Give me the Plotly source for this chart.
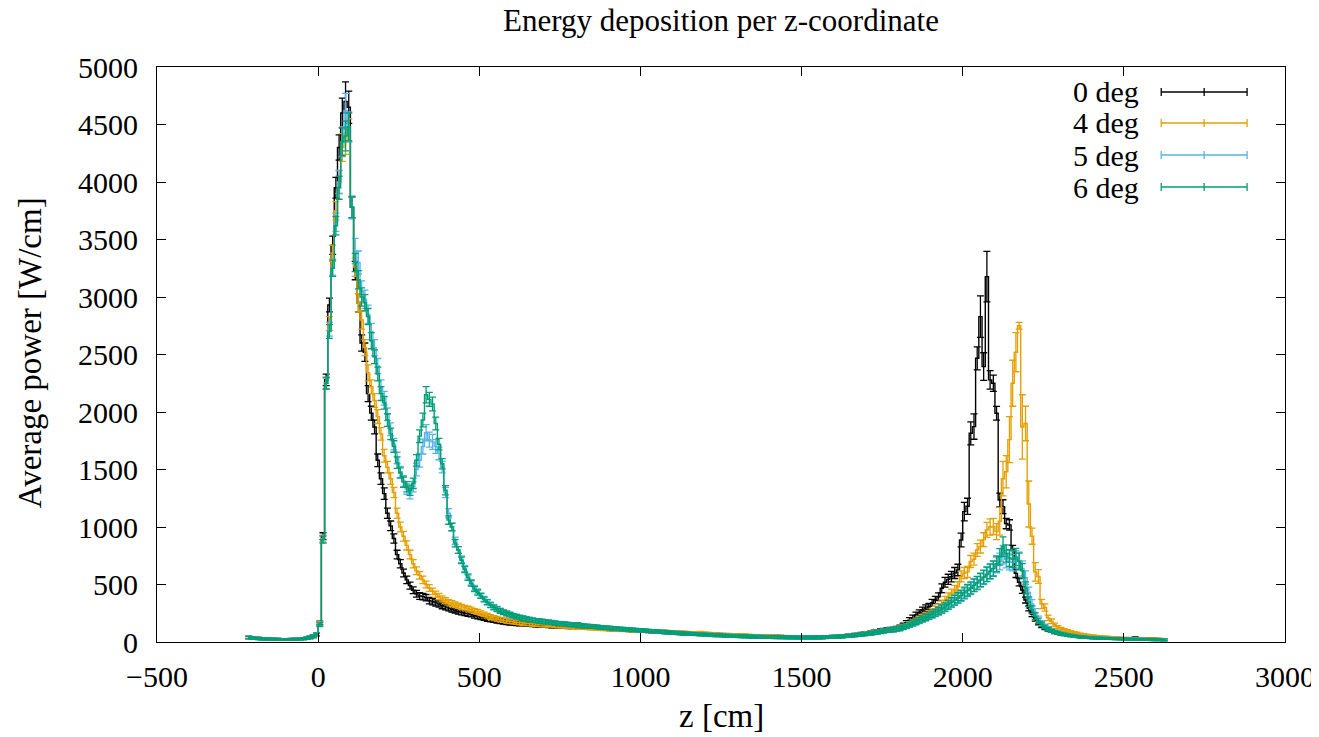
import plotly.graph_objects as go

# ---------------- data (bin centres every 10 cm starting at -215 cm) ----------------
BIN_START = -215
BIN_WIDTH = 10

SERIES_NAMES = ["0 deg", "4 deg", "5 deg", "6 deg"]
SERIES_COLORS = ["#000000", "#e69f00", "#56b4e9", "#009e73"]

DEG0 = [
    40, 36, 33, 31, 29, 27, 26, 25, 24, 23,
    22, 22, 22, 23, 23, 24, 26, 29, 33, 40,
    50, 68, 165, 920, 2280, 2930, 3450, 3950, 4300, 4600,
    4700, 4650, 3780, 3230, 2950, 2600, 2520, 2160, 1990, 1870,
    1580, 1420, 1290, 1120, 1010, 900, 760, 680, 600, 540,
    490, 450, 420, 400, 395, 385, 360, 350, 340, 330,
    315, 305, 295, 285, 275, 265, 258, 250, 245, 240,
    228, 222, 215, 208, 200, 195, 190, 185, 180, 176,
    172, 168, 165, 162, 160, 163, 158, 155, 152, 150,
    148, 146, 144, 142, 140, 139, 137, 136, 134, 133,
    132, 135, 150, 140, 130, 128, 126, 124, 122, 120,
    118, 116, 115, 113, 111, 110, 108, 106, 105, 103,
    101, 100, 98, 96, 95, 93, 92, 90, 88, 87,
    85, 84, 82, 81, 79, 78, 76, 75, 73, 72,
    70, 69, 68, 66, 65, 64, 62, 61, 60, 59,
    58, 57, 56, 55, 54, 53, 52, 51, 50, 49,
    48, 47, 47, 46, 45, 45, 44, 44, 43, 43,
    42, 42, 42, 41, 41, 41, 41, 42, 42, 43,
    44, 45, 46, 48, 50, 52, 55, 58, 61, 65,
    69, 73, 77, 82, 87, 92, 97, 102, 106, 108,
    110, 118, 128, 145, 165, 190, 210, 235, 255, 278,
    295, 307, 340, 365, 394, 467, 520, 545, 568, 600,
    626, 887, 1134, 1180, 1815, 1873, 2467, 2829, 2395, 3177,
    2279, 2250, 1989, 1235, 1177, 1030, 1018, 800, 597, 520,
    452, 365, 293, 240, 200, 165, 140, 122, 108, 96,
    86, 78, 71, 65, 60, 56, 52, 49, 46, 43,
    41, 40, 38, 37, 36, 35, 34, 33, 32, 32,
    31, 30, 30, 29, 28, 34, 28, 27, 26, 26,
    25, 24, 23, 22, 21,
]

DEG4 = [
    38, 35, 32, 30, 28, 27, 26, 25, 24, 23,
    22, 22, 22, 22, 23, 24, 26, 29, 33, 40,
    50, 66, 160, 900, 2250, 2770, 3380, 3750, 4000, 4300,
    4350, 4450, 3780, 3260, 2950, 2800, 2560, 2340, 2220, 2100,
    1960, 1810, 1620, 1520, 1420, 1300, 1120, 1000, 920, 840,
    760, 680, 620, 580, 540, 500, 470, 440, 415, 395,
    375, 360, 345, 335, 325, 315, 305, 298, 290, 282,
    270, 262, 250, 240, 228, 218, 210, 202, 195, 190,
    185, 180, 176, 172, 168, 165, 162, 160, 157, 155,
    152, 150, 148, 146, 150, 143, 140, 138, 136, 134,
    132, 130, 128, 127, 125, 123, 122, 120, 118, 117,
    115, 114, 112, 111, 109, 108, 106, 105, 104, 102,
    101, 99, 98, 97, 95, 94, 93, 91, 90, 89,
    87, 86, 85, 84, 82, 81, 80, 79, 78, 77,
    80, 76, 74, 72, 70, 68, 66, 64, 63, 62,
    60, 59, 58, 60, 56, 55, 54, 53, 52, 51,
    50, 49, 48, 47, 46, 46, 45, 44, 44, 43,
    43, 42, 42, 42, 42, 42, 42, 42, 43, 43,
    44, 45, 46, 48, 50, 52, 55, 58, 61, 65,
    68, 72, 76, 80, 84, 88, 92, 96, 100, 103,
    105, 112, 120, 130, 140, 155, 170, 185, 200, 215,
    230, 245, 260, 280, 300, 330, 360, 390, 420, 450,
    480, 570, 600, 610, 700, 720, 800, 830, 890, 975,
    1000, 1005, 960, 1050, 1420, 1480, 1760, 2250, 2520, 2750,
    1870, 1900, 1200, 920, 610, 570, 330, 300, 210, 180,
    150, 130, 115, 105, 96, 88, 81, 75, 69, 64,
    60, 56, 52, 49, 46, 44, 42, 40, 38, 36,
    34, 33, 32, 31, 30, 29, 28, 27, 26, 26,
    25, 24, 24, 23, 22,
]

DEG5 = [
    39, 35, 32, 30, 28, 27, 26, 25, 24, 23,
    22, 22, 22, 22, 23, 24, 26, 29, 33, 40,
    50, 66, 155, 895, 2250, 2720, 3260, 3650, 4000, 4350,
    4620, 4480, 3780, 3400, 3300, 3050, 2980, 2850, 2700, 2560,
    2400, 2220, 2120, 1980, 1850, 1720, 1600, 1480, 1400, 1330,
    1290, 1350, 1500, 1580, 1700, 1820, 1760, 1740, 1700, 1640,
    1520, 1300, 1120, 1000, 880, 800, 720, 640, 570, 520,
    470, 440, 405, 375, 350, 325, 305, 290, 275, 262,
    250, 240, 230, 222, 215, 208, 202, 197, 192, 188,
    184, 180, 176, 173, 170, 166, 163, 160, 158, 155,
    152, 150, 147, 144, 142, 139, 136, 134, 132, 129,
    127, 124, 122, 119, 117, 115, 113, 111, 109, 107,
    105, 103, 101, 99, 97, 95, 93, 91, 89, 87,
    85, 83, 81, 79, 77, 75, 74, 72, 71, 69,
    67, 66, 64, 63, 61, 60, 59, 58, 56, 55,
    54, 53, 52, 51, 50, 49, 48, 47, 46, 46,
    45, 44, 44, 43, 43, 42, 42, 41, 41, 41,
    40, 40, 40, 40, 40, 41, 41, 41, 42, 43,
    44, 45, 46, 48, 50, 52, 54, 57, 60, 63,
    66, 70, 74, 78, 82, 87, 92, 97, 102, 104,
    106, 112, 117, 126, 136, 148, 160, 172, 185, 198,
    210, 222, 236, 250, 265, 282, 300, 320, 340, 360,
    380, 400, 420, 445, 465, 490, 510, 535, 560, 585,
    610, 635, 670, 700, 760, 720, 700, 690, 720, 710,
    640, 560, 430, 330, 260, 200, 165, 138, 118, 102,
    90, 82, 74, 68, 62, 57, 53, 49, 46, 43,
    41, 39, 37, 35, 34, 33, 32, 31, 30, 29,
    28, 27, 26, 26, 25, 24, 24, 23, 23, 22,
    22, 21, 21, 20, 20,
]

DEG6 = [
    38, 35, 32, 30, 28, 27, 26, 25, 24, 23,
    22, 22, 22, 22, 23, 24, 26, 29, 33, 40,
    50, 65, 150, 890, 2250, 2700, 3250, 3620, 3950, 4350,
    4400, 4480, 3780, 3300, 3150, 3000, 2950, 2830, 2620, 2480,
    2330, 2160, 2080, 1930, 1810, 1700, 1560, 1470, 1390, 1350,
    1320, 1380, 1580, 1790, 1930, 2150, 2110, 2070, 1900, 1720,
    1550, 1320, 1060, 1000, 860, 800, 710, 630, 560, 510,
    460, 430, 400, 370, 345, 320, 300, 285, 270, 258,
    248, 238, 228, 220, 213, 206, 200, 195, 190, 186,
    182, 178, 175, 172, 168, 165, 162, 159, 157, 154,
    151, 148, 146, 143, 140, 138, 135, 133, 131, 128,
    126, 123, 121, 118, 116, 114, 112, 110, 108, 106,
    104, 102, 100, 98, 96, 94, 92, 90, 88, 86,
    84, 82, 80, 78, 76, 74, 73, 71, 70, 68,
    66, 65, 63, 62, 60, 59, 58, 57, 55, 54,
    53, 52, 51, 50, 49, 48, 47, 46, 45, 45,
    44, 43, 43, 42, 42, 41, 41, 40, 40, 40,
    39, 39, 39, 39, 39, 40, 40, 40, 41, 42,
    43, 44, 45, 47, 49, 51, 53, 56, 59, 62,
    65, 68, 72, 76, 80, 85, 90, 96, 100, 104,
    108, 113, 118, 128, 138, 150, 162, 175, 188, 200,
    213, 226, 240, 255, 270, 288, 305, 325, 345, 365,
    385, 405, 430, 450, 470, 495, 515, 540, 565, 590,
    615, 640, 680, 740, 830, 770, 730, 720, 740, 700,
    620, 470, 350, 280, 225, 185, 155, 130, 112, 98,
    88, 80, 72, 66, 60, 56, 52, 48, 45, 42,
    40, 38, 36, 34, 33, 32, 31, 30, 29, 28,
    27, 26, 26, 25, 24, 24, 23, 23, 22, 22,
    21, 21, 20, 20, 19,
]

# error-bar half heights (W/cm): left part (-215..575), shared middle part (585..1775), right part (1785..2625)
ERR_MID = [
    20, 20, 19, 19, 19, 20, 19, 18, 18, 18,
    18, 18, 17, 17, 17, 17, 16, 16, 16, 16,
    16, 17, 18, 17, 16, 16, 16, 15, 15, 15,
    15, 15, 15, 15, 15, 14, 14, 14, 14, 14,
    14, 14, 14, 13, 13, 13, 13, 13, 13, 13,
    13, 13, 13, 13, 13, 13, 12, 12, 12, 12,
    12, 12, 12, 12, 12, 12, 12, 12, 12, 12,
    12, 12, 12, 12, 12, 12, 12, 12, 12, 12,
    12, 12, 12, 12, 12, 12, 12, 12, 12, 12,
    12, 12, 12, 12, 12, 12, 12, 12, 12, 12,
    12, 12, 12, 12, 12, 12, 13, 13, 13, 13,
    14, 14, 14, 15, 15, 16, 16, 17, 17, 18,
]

ERR0_LEFT = [
    10, 10, 9, 9, 9, 8, 8, 8, 8, 8,
    8, 8, 8, 8, 8, 8, 8, 9, 9, 10,
    11, 12, 16, 30, 50, 60, 80, 90, 110, 130,
    170, 140, 90, 80, 80, 70, 80, 70, 60, 60,
    55, 50, 50, 45, 42, 40, 38, 36, 34, 32,
    31, 30, 29, 29, 28, 28, 28, 27, 27, 26,
    26, 25, 24, 24, 23, 22, 22, 21, 21, 21,
    21, 21, 20, 20, 20, 20, 20, 20, 20, 20,
]
ERR4_LEFT = [
    10, 10, 9, 9, 9, 8, 8, 8, 8, 8,
    8, 8, 8, 8, 8, 8, 8, 9, 9, 10,
    11, 12, 16, 30, 50, 60, 70, 80, 100, 120,
    110, 100, 90, 80, 80, 80, 70, 70, 60, 60,
    60, 55, 55, 50, 50, 45, 45, 42, 42, 40,
    38, 36, 34, 32, 32, 30, 29, 28, 27, 27,
    26, 25, 24, 24, 23, 22, 22, 21, 21, 21,
    21, 21, 20, 20, 20, 20, 20, 20, 20, 20,
]
ERR5_LEFT = [
    10, 10, 9, 9, 9, 8, 8, 8, 8, 8,
    8, 8, 8, 8, 8, 8, 8, 9, 9, 10,
    11, 12, 16, 30, 50, 60, 70, 80, 100, 130,
    150, 130, 100, 110, 100, 90, 80, 80, 70, 70,
    65, 60, 60, 55, 55, 50, 50, 48, 46, 45,
    45, 45, 55, 60, 65, 70, 65, 65, 60, 55,
    50, 45, 40, 35, 32, 30, 28, 26, 24, 23,
    22, 22, 21, 21, 21, 21, 20, 20, 20, 20,
]
ERR6_LEFT = [
    10, 10, 9, 9, 9, 8, 8, 8, 8, 8,
    8, 8, 8, 8, 8, 8, 8, 9, 9, 10,
    11, 12, 16, 30, 50, 60, 70, 80, 100, 120,
    130, 120, 90, 80, 80, 80, 70, 70, 70, 60,
    60, 60, 55, 55, 50, 50, 50, 45, 45, 45,
    45, 45, 50, 55, 60, 70, 60, 60, 55, 50,
    45, 40, 36, 32, 32, 30, 28, 26, 24, 23,
    22, 22, 21, 21, 21, 21, 20, 20, 20, 20,
]

ERR0_RIGHT = [
    18, 18, 19, 20, 21, 22, 23, 24, 25, 26,
    27, 28, 30, 32, 34, 38, 42, 44, 46, 48,
    50, 60, 80, 70, 100, 110, 100, 180, 120, 220,
    80, 70, 60, 60, 60, 45, 45, 40, 36, 32,
    30, 26, 22, 20, 18, 16, 15, 14, 13, 12,
    12, 11, 11, 10, 10, 10, 10, 9, 9, 9,
    9, 9, 9, 9, 9, 9, 8, 8, 8, 8,
    8, 8, 8, 8, 8, 10, 8, 8, 8, 8,
    8, 8, 8, 8, 8,
]
ERR4_RIGHT = [
    18, 18, 19, 19, 20, 21, 22, 23, 24, 25,
    26, 27, 28, 30, 32, 34, 36, 38, 40, 42,
    44, 48, 48, 48, 52, 52, 56, 56, 60, 65,
    70, 70, 70, 120, 150, 140, 200, 200, 170, 30,
    280, 150, 200, 70, 80, 60, 40, 32, 24, 20,
    15, 13, 12, 11, 11, 10, 10, 10, 9, 9,
    9, 9, 9, 9, 9, 9, 8, 8, 8, 8,
    8, 8, 8, 8, 8, 8, 8, 8, 8, 8,
    8, 8, 8, 8, 8,
]
ERR5_RIGHT = [
    18, 18, 19, 19, 20, 21, 22, 23, 24, 25,
    26, 27, 28, 30, 32, 34, 36, 38, 40, 42,
    44, 46, 48, 50, 52, 54, 56, 58, 60, 62,
    64, 66, 68, 72, 80, 75, 72, 72, 75, 72,
    66, 58, 48, 38, 30, 25, 20, 17, 15, 14,
    13, 12, 11, 11, 10, 10, 10, 9, 9, 9,
    9, 9, 9, 9, 9, 9, 8, 8, 8, 8,
    8, 8, 8, 8, 8, 8, 8, 8, 8, 8,
    8, 8, 8, 8, 8,
]
ERR6_RIGHT = [
    18, 18, 19, 19, 20, 21, 22, 23, 24, 25,
    26, 27, 28, 30, 32, 34, 36, 38, 40, 42,
    44, 46, 48, 50, 52, 54, 56, 58, 60, 62,
    64, 66, 68, 72, 85, 75, 72, 72, 75, 72,
    62, 52, 42, 34, 28, 23, 19, 16, 14, 13,
    12, 12, 11, 11, 10, 10, 10, 9, 9, 9,
    9, 9, 9, 9, 9, 9, 8, 8, 8, 8,
    8, 8, 8, 8, 8, 8, 8, 8, 8, 8,
    8, 8, 8, 8, 8,
]

X_TICKS = [-500, 0, 500, 1000, 1500, 2000, 2500, 3000]
Y_TICKS = [0, 500, 1000, 1500, 2000, 2500, 3000, 3500, 4000, 4500, 5000]

TITLE = "Energy deposition per z-coordinate"
X_TITLE = "z [cm]"
Y_TITLE = "Average power [W/cm]"

# ---------------- build ----------------
values = [DEG0, DEG4, DEG5, DEG6]
errors = [ERR0_LEFT + ERR_MID + ERR0_RIGHT,
          ERR4_LEFT + ERR_MID + ERR4_RIGHT,
          ERR5_LEFT + ERR_MID + ERR5_RIGHT,
          ERR6_LEFT + ERR_MID + ERR6_RIGHT]
n = len(DEG0)
for v, e in zip(values, errors):
    assert len(v) == n, (len(v), n)
    assert len(e) == n, (len(e), n)
z = [BIN_START + BIN_WIDTH * i for i in range(n)]

FONT = "Liberation Serif"
fig = go.Figure()
for name, col, v, e in zip(SERIES_NAMES, SERIES_COLORS, values, errors):
    fig.add_trace(go.Scatter(
        x=z, y=v, name=name, mode="lines",
        line=dict(color=col, width=1.4, shape="hvh"),
        error_y=dict(type="data", array=e, visible=True, color=col,
                     thickness=1.3, width=3.5),
        showlegend=False,
    ))

axis_common = dict(showline=True, linecolor="black", linewidth=1, mirror="ticks",
                   ticks="inside", ticklen=9, tickwidth=1, tickcolor="black",
                   showgrid=False, zeroline=False,
                   tickfont=dict(family=FONT, size=30, color="black"))

# the page adds an 8 px body margin, so the margins are reduced by 8 px to compensate
PAGE_OFF = 8
fig.update_layout(
    width=1319, height=737,
    margin=dict(l=157 - PAGE_OFF, r=32 + PAGE_OFF, t=67 - PAGE_OFF, b=95 + PAGE_OFF),
    paper_bgcolor="white", plot_bgcolor="white",
    font=dict(family=FONT, size=30, color="black"),
    title=dict(text=TITLE, x=0.5, xref="paper", xanchor="center",
               y=1 - 1 / 737, yref="container", yanchor="top",
               font=dict(family=FONT, size=31, color="black")),
    xaxis=dict(range=[-500, 3000], tickvals=X_TICKS, ticklabelstandoff=8, **axis_common),
    yaxis=dict(range=[0, 5000], tickvals=Y_TICKS, ticklabelstandoff=12, **axis_common),
    showlegend=False,
)

# axis titles
fig.add_annotation(text=X_TITLE, x=0.5, y=(642 - 716) / 575, xref="paper", yref="paper",
                   showarrow=False, xanchor="center", yanchor="middle",
                   font=dict(family=FONT, size=33, color="black"))
fig.add_annotation(text=Y_TITLE, x=(30 - 157) / 1130, y=(642 - 353) / 575, xref="paper", yref="paper",
                   showarrow=False, xanchor="center", yanchor="middle", textangle=-90,
                   font=dict(family=FONT, size=33, color="black"))

# gnuplot-style key: text on the left, sample (line with error ticks) on the right
key_rows_px = [92, 123, 155, 187]
lx0, lx1 = (1163 - 157) / 1130, (1249 - 157) / 1130
lxm = (lx0 + lx1) / 2
cap = 4 / 575
for name, col, ypx in zip(SERIES_NAMES, SERIES_COLORS, key_rows_px):
    yp = (642 - ypx) / 575
    fig.add_annotation(text=name, x=(1143 - 157) / 1130, y=yp, xref="paper", yref="paper",
                       showarrow=False, xanchor="right", yanchor="middle",
                       font=dict(family=FONT, size=30, color="black"))
    fig.add_shape(type="line", xref="paper", yref="paper", x0=lx0, x1=lx1, y0=yp, y1=yp,
                  line=dict(color=col, width=1.3))
    for xc in (lx0, lxm, lx1):
        fig.add_shape(type="line", xref="paper", yref="paper", x0=xc, x1=xc,
                      y0=yp - cap, y1=yp + cap, line=dict(color=col, width=1.3))

fig.write_html("out.html", config={"displayModeBar": False})
